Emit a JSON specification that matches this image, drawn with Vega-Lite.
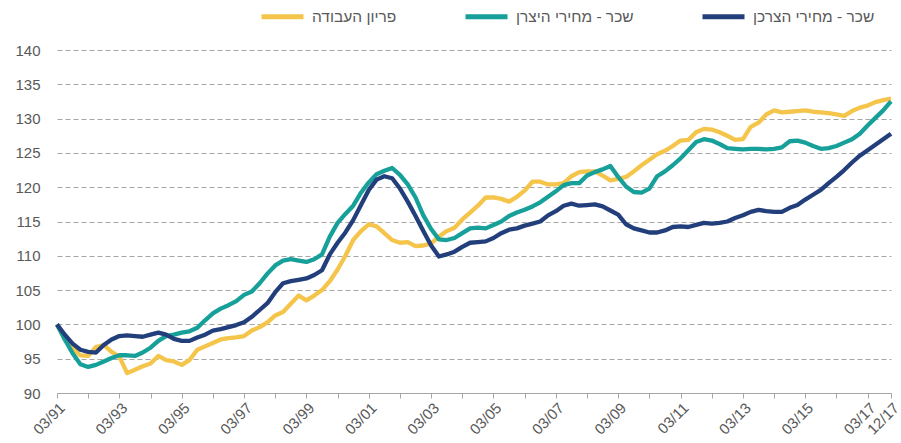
{
"$schema": "https://vega.github.io/schema/vega-lite/v6.json",
"width": 834, "height": 343,
"autosize": {"type": "none"},
"padding": {"left": 57, "top": 50, "right": 10, "bottom": 50},
"config": {"view": {"stroke": null}, "font": "Liberation Sans"},
"data": {"values": [
{"d":"03/91","s":"פריון העבודה","v":100},{"d":"06/91","s":"פריון העבודה","v":97.8},{"d":"09/91","s":"פריון העבודה","v":96.5},{"d":"12/91","s":"פריון העבודה","v":95.5},
{"d":"03/92","s":"פריון העבודה","v":95.4},{"d":"06/92","s":"פריון העבודה","v":96.7},{"d":"09/92","s":"פריון העבודה","v":97.0},{"d":"12/92","s":"פריון העבודה","v":96.0},
{"d":"03/93","s":"פריון העבודה","v":95.3},{"d":"06/93","s":"פריון העבודה","v":92.9},{"d":"09/93","s":"פריון העבודה","v":93.4},{"d":"12/93","s":"פריון העבודה","v":93.9},
{"d":"03/94","s":"פריון העבודה","v":94.3},{"d":"06/94","s":"פריון העבודה","v":95.4},{"d":"09/94","s":"פריון העבודה","v":94.8},{"d":"12/94","s":"פריון העבודה","v":94.6},
{"d":"03/95","s":"פריון העבודה","v":94.1},{"d":"06/95","s":"פריון העבודה","v":94.8},{"d":"09/95","s":"פריון העבודה","v":96.3},{"d":"12/95","s":"פריון העבודה","v":96.8},
{"d":"03/96","s":"פריון העבודה","v":97.3},{"d":"06/96","s":"פריון העבודה","v":97.8},{"d":"09/96","s":"פריון העבודה","v":98.0},{"d":"12/96","s":"פריון העבודה","v":98.1},
{"d":"03/97","s":"פריון העבודה","v":98.3},{"d":"06/97","s":"פריון העבודה","v":99.1},{"d":"09/97","s":"פריון העבודה","v":99.6},{"d":"12/97","s":"פריון העבודה","v":100.3},
{"d":"03/98","s":"פריון העבודה","v":101.3},{"d":"06/98","s":"פריון העבודה","v":101.8},{"d":"09/98","s":"פריון העבודה","v":103.0},{"d":"12/98","s":"פריון העבודה","v":104.2},
{"d":"03/99","s":"פריון העבודה","v":103.5},{"d":"06/99","s":"פריון העבודה","v":104.2},{"d":"09/99","s":"פריון העבודה","v":105.0},{"d":"12/99","s":"פריון העבודה","v":106.3},
{"d":"03/00","s":"פריון העבודה","v":108.0},{"d":"06/00","s":"פריון העבודה","v":110.0},{"d":"09/00","s":"פריון העבודה","v":112.3},{"d":"12/00","s":"פריון העבודה","v":113.6},
{"d":"03/01","s":"פריון העבודה","v":114.6},{"d":"06/01","s":"פריון העבודה","v":114.3},{"d":"09/01","s":"פריון העבודה","v":113.3},{"d":"12/01","s":"פריון העבודה","v":112.3},
{"d":"03/02","s":"פריון העבודה","v":111.9},{"d":"06/02","s":"פריון העבודה","v":112.0},{"d":"09/02","s":"פריון העבודה","v":111.4},{"d":"12/02","s":"פריון העבודה","v":111.5},
{"d":"03/03","s":"פריון העבודה","v":111.8},{"d":"06/03","s":"פריון העבודה","v":112.8},{"d":"09/03","s":"פריון העבודה","v":113.6},{"d":"12/03","s":"פריון העבודה","v":114.1},
{"d":"03/04","s":"פריון העבודה","v":115.3},{"d":"06/04","s":"פריון העבודה","v":116.3},{"d":"09/04","s":"פריון העבודה","v":117.3},{"d":"12/04","s":"פריון העבודה","v":118.5},
{"d":"03/05","s":"פריון העבודה","v":118.5},{"d":"06/05","s":"פריון העבודה","v":118.3},{"d":"09/05","s":"פריון העבודה","v":117.9},{"d":"12/05","s":"פריון העבודה","v":118.6},
{"d":"03/06","s":"פריון העבודה","v":119.5},{"d":"06/06","s":"פריון העבודה","v":120.8},{"d":"09/06","s":"פריון העבודה","v":120.8},{"d":"12/06","s":"פריון העבודה","v":120.4},
{"d":"03/07","s":"פריון העבודה","v":120.4},{"d":"06/07","s":"פריון העבודה","v":120.6},{"d":"09/07","s":"פריון העבודה","v":121.6},{"d":"12/07","s":"פריון העבודה","v":122.2},
{"d":"03/08","s":"פריון העבודה","v":122.3},{"d":"06/08","s":"פריון העבודה","v":122.3},{"d":"09/08","s":"פריון העבודה","v":121.7},{"d":"12/08","s":"פריון העבודה","v":121.0},
{"d":"03/09","s":"פריון העבודה","v":121.2},{"d":"06/09","s":"פריון העבודה","v":121.5},{"d":"09/09","s":"פריון העבודה","v":122.3},{"d":"12/09","s":"פריון העבודה","v":123.2},
{"d":"03/10","s":"פריון העבודה","v":124.0},{"d":"06/10","s":"פריון העבודה","v":124.8},{"d":"09/10","s":"פריון העבודה","v":125.3},{"d":"12/10","s":"פריון העבודה","v":126.0},
{"d":"03/11","s":"פריון העבודה","v":126.8},{"d":"06/11","s":"פריון העבודה","v":126.9},{"d":"09/11","s":"פריון העבודה","v":128.0},{"d":"12/11","s":"פריון העבודה","v":128.5},
{"d":"03/12","s":"פריון העבודה","v":128.4},{"d":"06/12","s":"פריון העבודה","v":128.0},{"d":"09/12","s":"פריון העבודה","v":127.5},{"d":"12/12","s":"פריון העבודה","v":126.9},
{"d":"03/13","s":"פריון העבודה","v":127.0},{"d":"06/13","s":"פריון העבודה","v":128.8},{"d":"09/13","s":"פריון העבודה","v":129.4},{"d":"12/13","s":"פריון העבודה","v":130.6},
{"d":"03/14","s":"פריון העבודה","v":131.2},{"d":"06/14","s":"פריון העבודה","v":130.9},{"d":"09/14","s":"פריון העבודה","v":131.0},{"d":"12/14","s":"פריון העבודה","v":131.1},
{"d":"03/15","s":"פריון העבודה","v":131.2},{"d":"06/15","s":"פריון העבודה","v":131.0},{"d":"09/15","s":"פריון העבודה","v":130.9},{"d":"12/15","s":"פריון העבודה","v":130.8},
{"d":"03/16","s":"פריון העבודה","v":130.6},{"d":"06/16","s":"פריון העבודה","v":130.4},{"d":"09/16","s":"פריון העבודה","v":131.1},{"d":"12/16","s":"פריון העבודה","v":131.6},
{"d":"03/17","s":"פריון העבודה","v":131.9},{"d":"06/17","s":"פריון העבודה","v":132.4},{"d":"09/17","s":"פריון העבודה","v":132.7},{"d":"12/17","s":"פריון העבודה","v":132.9},

{"d":"03/91","s":"שכר - מחירי היצרן","v":100},{"d":"06/91","s":"שכר - מחירי היצרן","v":97.8},{"d":"09/91","s":"שכר - מחירי היצרן","v":95.8},{"d":"12/91","s":"שכר - מחירי היצרן","v":94.2},
{"d":"03/92","s":"שכר - מחירי היצרן","v":93.8},{"d":"06/92","s":"שכר - מחירי היצרן","v":94.1},{"d":"09/92","s":"שכר - מחירי היצרן","v":94.6},{"d":"12/92","s":"שכר - מחירי היצרן","v":95.1},
{"d":"03/93","s":"שכר - מחירי היצרן","v":95.5},{"d":"06/93","s":"שכר - מחירי היצרן","v":95.5},{"d":"09/93","s":"שכר - מחירי היצרן","v":95.4},{"d":"12/93","s":"שכר - מחירי היצרן","v":95.9},
{"d":"03/94","s":"שכר - מחירי היצרן","v":96.6},{"d":"06/94","s":"שכר - מחירי היצרן","v":97.6},{"d":"09/94","s":"שכר - מחירי היצרן","v":98.3},{"d":"12/94","s":"שכר - מחירי היצרן","v":98.5},
{"d":"03/95","s":"שכר - מחירי היצרן","v":98.8},{"d":"06/95","s":"שכר - מחירי היצרן","v":99.0},{"d":"09/95","s":"שכר - מחירי היצרן","v":99.5},{"d":"12/95","s":"שכר - מחירי היצרן","v":100.6},
{"d":"03/96","s":"שכר - מחירי היצרן","v":101.6},{"d":"06/96","s":"שכר - מחירי היצרן","v":102.3},{"d":"09/96","s":"שכר - מחירי היצרן","v":102.8},{"d":"12/96","s":"שכר - מחירי היצרן","v":103.4},
{"d":"03/97","s":"שכר - מחירי היצרן","v":104.3},{"d":"06/97","s":"שכר - מחירי היצרן","v":104.8},{"d":"09/97","s":"שכר - מחירי היצרן","v":106.0},{"d":"12/97","s":"שכר - מחירי היצרן","v":107.4},
{"d":"03/98","s":"שכר - מחירי היצרן","v":108.6},{"d":"06/98","s":"שכר - מחירי היצרן","v":109.3},{"d":"09/98","s":"שכר - מחירי היצרן","v":109.5},{"d":"12/98","s":"שכר - מחירי היצרן","v":109.3},
{"d":"03/99","s":"שכר - מחירי היצרן","v":109.1},{"d":"06/99","s":"שכר - מחירי היצרן","v":109.5},{"d":"09/99","s":"שכר - מחירי היצרן","v":110.2},{"d":"12/99","s":"שכר - מחירי היצרן","v":112.8},
{"d":"03/00","s":"שכר - מחירי היצרן","v":114.8},{"d":"06/00","s":"שכר - מחירי היצרן","v":116.1},{"d":"09/00","s":"שכר - מחירי היצרן","v":117.3},{"d":"12/00","s":"שכר - מחירי היצרן","v":119.2},
{"d":"03/01","s":"שכר - מחירי היצרן","v":120.7},{"d":"06/01","s":"שכר - מחירי היצרן","v":121.9},{"d":"09/01","s":"שכר - מחירי היצרן","v":122.4},{"d":"12/01","s":"שכר - מחירי היצרן","v":122.8},
{"d":"03/02","s":"שכר - מחירי היצרן","v":121.8},{"d":"06/02","s":"שכר - מחירי היצרן","v":120.4},{"d":"09/02","s":"שכר - מחירי היצרן","v":118.5},{"d":"12/02","s":"שכר - מחירי היצרן","v":115.9},
{"d":"03/03","s":"שכר - מחירי היצרן","v":113.9},{"d":"06/03","s":"שכר - מחירי היצרן","v":112.4},{"d":"09/03","s":"שכר - מחירי היצרן","v":112.3},{"d":"12/03","s":"שכר - מחירי היצרן","v":112.6},
{"d":"03/04","s":"שכר - מחירי היצרן","v":113.3},{"d":"06/04","s":"שכר - מחירי היצרן","v":114.0},{"d":"09/04","s":"שכר - מחירי היצרן","v":114.1},{"d":"12/04","s":"שכר - מחירי היצרן","v":114.0},
{"d":"03/05","s":"שכר - מחירי היצרן","v":114.5},{"d":"06/05","s":"שכר - מחירי היצרן","v":115.0},{"d":"09/05","s":"שכר - מחירי היצרן","v":115.8},{"d":"12/05","s":"שכר - מחירי היצרן","v":116.3},
{"d":"03/06","s":"שכר - מחירי היצרן","v":116.7},{"d":"06/06","s":"שכר - מחירי היצרן","v":117.2},{"d":"09/06","s":"שכר - מחירי היצרן","v":117.8},{"d":"12/06","s":"שכר - מחירי היצרן","v":118.6},
{"d":"03/07","s":"שכר - מחירי היצרן","v":119.4},{"d":"06/07","s":"שכר - מחירי היצרן","v":120.3},{"d":"09/07","s":"שכר - מחירי היצרן","v":120.6},{"d":"12/07","s":"שכר - מחירי היצרן","v":120.6},
{"d":"03/08","s":"שכר - מחירי היצרן","v":121.7},{"d":"06/08","s":"שכר - מחירי היצרן","v":122.2},{"d":"09/08","s":"שכר - מחירי היצרן","v":122.6},{"d":"12/08","s":"שכר - מחירי היצרן","v":123.1},
{"d":"03/09","s":"שכר - מחירי היצרן","v":121.5},{"d":"06/09","s":"שכר - מחירי היצרן","v":120.1},{"d":"09/09","s":"שכר - מחירי היצרן","v":119.3},{"d":"12/09","s":"שכר - מחירי היצרן","v":119.2},
{"d":"03/10","s":"שכר - מחירי היצרן","v":119.8},{"d":"06/10","s":"שכר - מחירי היצרן","v":121.6},{"d":"09/10","s":"שכר - מחירי היצרן","v":122.3},{"d":"12/10","s":"שכר - מחירי היצרן","v":123.2},
{"d":"03/11","s":"שכר - מחירי היצרן","v":124.2},{"d":"06/11","s":"שכר - מחירי היצרן","v":125.4},{"d":"09/11","s":"שכר - מחירי היצרן","v":126.6},{"d":"12/11","s":"שכר - מחירי היצרן","v":127.0},
{"d":"03/12","s":"שכר - מחירי היצרן","v":126.8},{"d":"06/12","s":"שכר - מחירי היצרן","v":126.3},{"d":"09/12","s":"שכר - מחירי היצרן","v":125.7},{"d":"12/12","s":"שכר - מחירי היצרן","v":125.6},
{"d":"03/13","s":"שכר - מחירי היצרן","v":125.5},{"d":"06/13","s":"שכר - מחירי היצרן","v":125.6},{"d":"09/13","s":"שכר - מחירי היצרן","v":125.6},{"d":"12/13","s":"שכר - מחירי היצרן","v":125.5},
{"d":"03/14","s":"שכר - מחירי היצרן","v":125.6},{"d":"06/14","s":"שכר - מחירי היצרן","v":125.8},{"d":"09/14","s":"שכר - מחירי היצרן","v":126.7},{"d":"12/14","s":"שכר - מחירי היצרן","v":126.8},
{"d":"03/15","s":"שכר - מחירי היצרן","v":126.5},{"d":"06/15","s":"שכר - מחירי היצרן","v":126.0},{"d":"09/15","s":"שכר - מחירי היצרן","v":125.6},{"d":"12/15","s":"שכר - מחירי היצרן","v":125.7},
{"d":"03/16","s":"שכר - מחירי היצרן","v":126.0},{"d":"06/16","s":"שכר - מחירי היצרן","v":126.5},{"d":"09/16","s":"שכר - מחירי היצרן","v":127.0},{"d":"12/16","s":"שכר - מחירי היצרן","v":127.8},
{"d":"03/17","s":"שכר - מחירי היצרן","v":129.0},{"d":"06/17","s":"שכר - מחירי היצרן","v":130.1},{"d":"09/17","s":"שכר - מחירי היצרן","v":131.2},{"d":"12/17","s":"שכר - מחירי היצרן","v":132.5},

{"d":"03/91","s":"שכר - מחירי הצרכן","v":100},{"d":"06/91","s":"שכר - מחירי הצרכן","v":98.5},{"d":"09/91","s":"שכר - מחירי הצרכן","v":97.2},{"d":"12/91","s":"שכר - מחירי הצרכן","v":96.3},
{"d":"03/92","s":"שכר - מחירי הצרכן","v":96.0},{"d":"06/92","s":"שכר - מחירי הצרכן","v":95.9},{"d":"09/92","s":"שכר - מחירי הצרכן","v":97.0},{"d":"12/92","s":"שכר - מחירי הצרכן","v":97.8},
{"d":"03/93","s":"שכר - מחירי הצרכן","v":98.3},{"d":"06/93","s":"שכר - מחירי הצרכן","v":98.4},{"d":"09/93","s":"שכר - מחירי הצרכן","v":98.3},{"d":"12/93","s":"שכר - מחירי הצרכן","v":98.2},
{"d":"03/94","s":"שכר - מחירי הצרכן","v":98.5},{"d":"06/94","s":"שכר - מחירי הצרכן","v":98.8},{"d":"09/94","s":"שכר - מחירי הצרכן","v":98.5},{"d":"12/94","s":"שכר - מחירי הצרכן","v":97.9},
{"d":"03/95","s":"שכר - מחירי הצרכן","v":97.6},{"d":"06/95","s":"שכר - מחירי הצרכן","v":97.6},{"d":"09/95","s":"שכר - מחירי הצרכן","v":98.1},{"d":"12/95","s":"שכר - מחירי הצרכן","v":98.5},
{"d":"03/96","s":"שכר - מחירי הצרכן","v":99.1},{"d":"06/96","s":"שכר - מחירי הצרכן","v":99.3},{"d":"09/96","s":"שכר - מחירי הצרכן","v":99.6},{"d":"12/96","s":"שכר - מחירי הצרכן","v":99.9},
{"d":"03/97","s":"שכר - מחירי הצרכן","v":100.3},{"d":"06/97","s":"שכר - מחירי הצרכן","v":101.1},{"d":"09/97","s":"שכר - מחירי הצרכן","v":102.1},{"d":"12/97","s":"שכר - מחירי הצרכן","v":103.1},
{"d":"03/98","s":"שכר - מחירי הצרכן","v":104.7},{"d":"06/98","s":"שכר - מחירי הצרכן","v":106.0},{"d":"09/98","s":"שכר - מחירי הצרכן","v":106.3},{"d":"12/98","s":"שכר - מחירי הצרכן","v":106.5},
{"d":"03/99","s":"שכר - מחירי הצרכן","v":106.7},{"d":"06/99","s":"שכר - מחירי הצרכן","v":107.2},{"d":"09/99","s":"שכר - מחירי הצרכן","v":107.9},{"d":"12/99","s":"שכר - מחירי הצרכן","v":110.2},
{"d":"03/00","s":"שכר - מחירי הצרכן","v":111.9},{"d":"06/00","s":"שכר - מחירי הצרכן","v":113.4},{"d":"09/00","s":"שכר - מחירי הצרכן","v":115.2},{"d":"12/00","s":"שכר - מחירי הצרכן","v":117.4},
{"d":"03/01","s":"שכר - מחירי הצרכן","v":119.6},{"d":"06/01","s":"שכר - מחירי הצרכן","v":121.1},{"d":"09/01","s":"שכר - מחירי הצרכן","v":121.6},{"d":"12/01","s":"שכר - מחירי הצרכן","v":121.3},
{"d":"03/02","s":"שכר - מחירי הצרכן","v":119.8},{"d":"06/02","s":"שכר - מחירי הצרכן","v":117.9},{"d":"09/02","s":"שכר - מחירי הצרכן","v":115.8},{"d":"12/02","s":"שכר - מחירי הצרכן","v":113.6},
{"d":"03/03","s":"שכר - מחירי הצרכן","v":111.5},{"d":"06/03","s":"שכר - מחירי הצרכן","v":109.9},{"d":"09/03","s":"שכר - מחירי הצרכן","v":110.2},{"d":"12/03","s":"שכר - מחירי הצרכן","v":110.6},
{"d":"03/04","s":"שכר - מחירי הצרכן","v":111.3},{"d":"06/04","s":"שכר - מחירי הצרכן","v":111.9},{"d":"09/04","s":"שכר - מחירי הצרכן","v":112.0},{"d":"12/04","s":"שכר - מחירי הצרכן","v":112.1},
{"d":"03/05","s":"שכר - מחירי הצרכן","v":112.6},{"d":"06/05","s":"שכר - מחירי הצרכן","v":113.3},{"d":"09/05","s":"שכר - מחירי הצרכן","v":113.8},{"d":"12/05","s":"שכר - מחירי הצרכן","v":114.0},
{"d":"03/06","s":"שכר - מחירי הצרכן","v":114.4},{"d":"06/06","s":"שכר - מחירי הצרכן","v":114.7},{"d":"09/06","s":"שכר - מחירי הצרכן","v":115.0},{"d":"12/06","s":"שכר - מחירי הצרכן","v":115.9},
{"d":"03/07","s":"שכר - מחירי הצרכן","v":116.5},{"d":"06/07","s":"שכר - מחירי הצרכן","v":117.3},{"d":"09/07","s":"שכר - מחירי הצרכן","v":117.6},{"d":"12/07","s":"שכר - מחירי הצרכן","v":117.3},
{"d":"03/08","s":"שכר - מחירי הצרכן","v":117.4},{"d":"06/08","s":"שכר - מחירי הצרכן","v":117.5},{"d":"09/08","s":"שכר - מחירי הצרכן","v":117.2},{"d":"12/08","s":"שכר - מחירי הצרכן","v":116.6},
{"d":"03/09","s":"שכר - מחירי הצרכן","v":116.0},{"d":"06/09","s":"שכר - מחירי הצרכן","v":114.6},{"d":"09/09","s":"שכר - מחירי הצרכן","v":114.0},{"d":"12/09","s":"שכר - מחירי הצרכן","v":113.7},
{"d":"03/10","s":"שכר - מחירי הצרכן","v":113.4},{"d":"06/10","s":"שכר - מחירי הצרכן","v":113.4},{"d":"09/10","s":"שכר - מחירי הצרכן","v":113.7},{"d":"12/10","s":"שכר - מחירי הצרכן","v":114.2},
{"d":"03/11","s":"שכר - מחירי הצרכן","v":114.3},{"d":"06/11","s":"שכר - מחירי הצרכן","v":114.2},{"d":"09/11","s":"שכר - מחירי הצרכן","v":114.5},{"d":"12/11","s":"שכר - מחירי הצרכן","v":114.8},
{"d":"03/12","s":"שכר - מחירי הצרכן","v":114.7},{"d":"06/12","s":"שכר - מחירי הצרכן","v":114.8},{"d":"09/12","s":"שכר - מחירי הצרכן","v":115.0},{"d":"12/12","s":"שכר - מחירי הצרכן","v":115.5},
{"d":"03/13","s":"שכר - מחירי הצרכן","v":115.9},{"d":"06/13","s":"שכר - מחירי הצרכן","v":116.4},{"d":"09/13","s":"שכר - מחירי הצרכן","v":116.7},{"d":"12/13","s":"שכר - מחירי הצרכן","v":116.5},
{"d":"03/14","s":"שכר - מחירי הצרכן","v":116.4},{"d":"06/14","s":"שכר - מחירי הצרכן","v":116.4},{"d":"09/14","s":"שכר - מחירי הצרכן","v":117.0},{"d":"12/14","s":"שכר - מחירי הצרכן","v":117.4},
{"d":"03/15","s":"שכר - מחירי הצרכן","v":118.2},{"d":"06/15","s":"שכר - מחירי הצרכן","v":118.9},{"d":"09/15","s":"שכר - מחירי הצרכן","v":119.6},{"d":"12/15","s":"שכר - מחירי הצרכן","v":120.6},
{"d":"03/16","s":"שכר - מחירי הצרכן","v":121.5},{"d":"06/16","s":"שכר - מחירי הצרכן","v":122.5},{"d":"09/16","s":"שכר - מחירי הצרכן","v":123.6},{"d":"12/16","s":"שכר - מחירי הצרכן","v":124.6},
{"d":"03/17","s":"שכר - מחירי הצרכן","v":125.4},{"d":"06/17","s":"שכר - מחירי הצרכן","v":126.2},{"d":"09/17","s":"שכר - מחירי הצרכן","v":127.0},{"d":"12/17","s":"שכר - מחירי הצרכן","v":127.8}
]},
"mark": {"type": "line", "strokeWidth": 4.3, "strokeJoin": "round"},
"encoding": {
  "x": {"field": "d", "type": "ordinal", "sort": null,
    "scale": {"type": "point", "padding": 0},
    "axis": {"title": null,
      "values": ["03/91","03/92","03/93","03/94","03/95","03/96","03/97","03/98","03/99","03/00","03/01","03/02","03/03","03/04","03/05","03/06","03/07","03/08","03/09","03/10","03/11","03/12","03/13","03/14","03/15","03/16","03/17","12/17"],
      "labelExpr": "substring(datum.value,0,2)=='12' || toNumber(substring(datum.value,3,5))%2==1 ? datum.value : ''",
      "labelAngle": -45, "labelFontSize": 15, "labelColor": "#595959",
      "domainColor": "#a6a6a6", "tickColor": "#a6a6a6", "tickSize": 5, "grid": false,
      "labelPadding": 2, "labelOverlap": false}},
  "y": {"field": "v", "type": "quantitative",
    "scale": {"domain": [90, 140], "nice": false, "zero": false},
    "axis": {"title": null, "values": [90,95,100,105,110,115,120,125,130,135,140],
      "domain": false, "ticks": false, "grid": true, "gridDash": [5, 3], "gridColor": "#a6a6a6",
      "labelFontSize": 15, "labelColor": "#595959", "labelPadding": 17}},
  "color": {"field": "s", "type": "nominal",
    "scale": {"domain": ["פריון העבודה", "שכר - מחירי היצרן", "שכר - מחירי הצרכן"],
      "range": ["#F4C54A", "#17A09A", "#233F7B"]},
    "legend": {"title": null, "orient": "none", "legendX": 202, "legendY": -57,
      "direction": "horizontal", "symbolType": "stroke", "symbolSize": 1764, "symbolStrokeWidth": 5,
      "labelFontSize": 15.5, "labelColor": "#595959", "columnPadding": 58, "labelOffset": 6, "labelLimit": 300}}
}
}
